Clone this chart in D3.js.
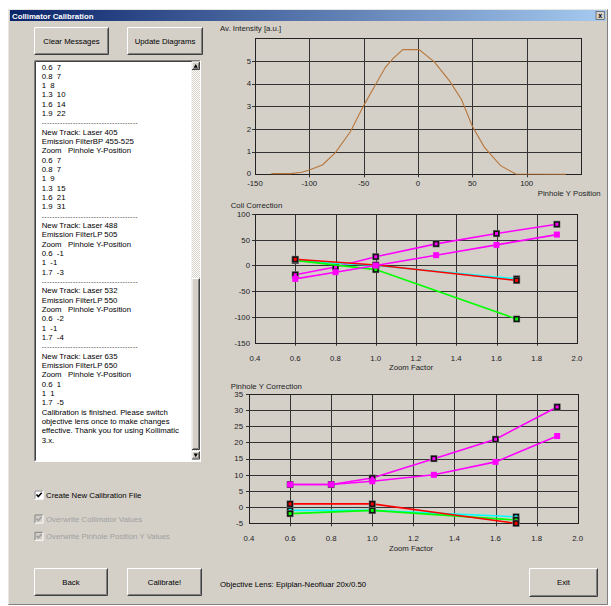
<!DOCTYPE html>
<html><head><meta charset="utf-8">
<script src="https://cdn.jsdelivr.net/npm/d3@7/dist/d3.min.js"></script>
<style>
html,body{margin:0;padding:0;background:#fff;}
svg{display:block;font-family:"Liberation Sans",Arial,sans-serif;}
</style></head>
<body>
<svg id="c" width="611" height="606"></svg>
<script>
// ---------- data ----------
const intensityX = [-135,-117,-107,-100,-88,-76,-62,-50,-39,-30,-23,-14,1,15,29,40,50,61,76,90,136];
const intensityY = [0.03,0.03,0.09,0.19,0.41,0.96,1.9,3.03,3.96,4.72,5.1,5.5,5.5,4.96,4.12,3.3,2.12,1.2,0.38,0.01,0.0];
const intensityXTicks = [-150,-100,-50,0,50,100];
const intensityYTicks = [0,1,2,3,4,5];

const zoomFull = [0.6,0.8,1.0,1.3,1.6,1.9];
const zoomShort = [0.6,1.0,1.7];
const zoomTicks = [0.4,0.6,0.8,1.0,1.2,1.4,1.6,1.8,2.0];

const colliTrack1 = [-26,-13,0,20,40,60];
const colli405 = [-18,-3,17,42,62,80];
const colli488 = [10,0,-26];
const colli532 = [10,-8,-104];
const colli635 = [12,1,-29];
const colliTicks = [-150,-100,-50,0,50,100];

const pinTrack1 = [7,7,8,10,14,22];
const pin405 = [7,7,9,15,21,31];
const pin488 = [-1,-1,-3];
const pin532 = [-2,-1,-4];
const pin635 = [1,1,-5];
const pinTicks = [-5,0,5,10,15,20,25,30,35];

const messages = [
 "0.6  7","0.8  7","1  8","1.3  10","1.6  14","1.9  22","-",
 "New Track: Laser 405","Emission FilterBP 455-525","Zoom   Pinhole Y-Position",
 "0.6  7","0.8  7","1  9","1.3  15","1.6  21","1.9  31","-",
 "New Track: Laser 488","Emission FilterLP 505","Zoom   Pinhole Y-Position",
 "0.6  -1","1  -1","1.7  -3","-",
 "New Track: Laser 532","Emission FilterLP 550","Zoom   Pinhole Y-Position",
 "0.6  -2","1  -1","1.7  -4","-",
 "New Track: Laser 635","Emission FilterLP 650","Zoom   Pinhole Y-Position",
 "0.6  1","1  1","1.7  -5",
 "Calibration is finished. Please switch",
 "objective lens once to make changes",
 "effective. Thank you for using Kollimatic",
 "3.x."
];

const BG = "#d4d0c8";
const FS = 7.8;
const svg = d3.select("#c");

// ---------- window ----------
svg.append("rect").attr("x",0).attr("y",0).attr("width",611).attr("height",606).attr("fill","#fff");
svg.append("rect").attr("x",8).attr("y",9).attr("width",600).attr("height",596).attr("fill",BG);
svg.append("path").attr("d","M8.5,604.5V9.5H607.5").attr("stroke","#e8e6e2").attr("fill","none");
svg.append("path").attr("d","M8.5,604.5H607.5V9.5").attr("stroke","#808080").attr("fill","none");
const defs = svg.append("defs");
const grad = defs.append("linearGradient").attr("id","tb");
grad.append("stop").attr("offset","0").attr("stop-color","#0a246a");
grad.append("stop").attr("offset","1").attr("stop-color","#a6caf0");
svg.append("rect").attr("x",10).attr("y",10).attr("width",596).attr("height",11).attr("fill","url(#tb)");
svg.append("text").attr("x",12).attr("y",18.5).attr("fill","#fff").attr("font-weight","bold")
  .attr("font-size",7.8).text("Collimator Calibration");
// close button
svg.append("rect").attr("x",596).attr("y",11.5).attr("width",8.5).attr("height",8).attr("fill",BG)
  .attr("stroke","#404040").attr("stroke-width",0.6);
svg.append("text").attr("x",600.3).attr("y",18.3).attr("text-anchor","middle").attr("font-size",7)
  .attr("font-weight","bold").text("x");

const pat = defs.append("pattern").attr("id","dith").attr("width",2).attr("height",2).attr("patternUnits","userSpaceOnUse");
pat.append("rect").attr("width",2).attr("height",2).attr("fill","#fff");
pat.append("rect").attr("width",1).attr("height",1).attr("fill",BG);
pat.append("rect").attr("x",1).attr("y",1).attr("width",1).attr("height",1).attr("fill",BG);

function button(x,y,w,h,label,g){
  g = g || svg;
  g.append("rect").attr("x",x).attr("y",y).attr("width",w).attr("height",h).attr("fill",BG);
  g.append("path").attr("d",`M${x+0.5},${y+h-0.5}V${y+0.5}H${x+w-0.5}`).attr("stroke","#fff").attr("fill","none");
  g.append("path").attr("d",`M${x+0.5},${y+h-0.5}H${x+w-0.5}V${y+0.5}`).attr("stroke","#404040").attr("fill","none");
  g.append("path").attr("d",`M${x+1.5},${y+h-1.5}H${x+w-1.5}V${y+1.5}`).attr("stroke","#808080").attr("fill","none");
  if(label) g.append("text").attr("x",x+w/2).attr("y",y+h/2+2.8).attr("text-anchor","middle")
    .attr("font-size",FS).attr("fill","#000").text(label);
}
button(34,27,75,28,"Clear Messages");
button(127,27,76,28,"Update Diagrams");
button(34,568,74,28,"Back");
button(127,568,75,28,"Calibrate!");
button(529,568,69,29,"Exit");

// ---------- message box ----------
const bx=34, by=60, bw=167, bh=402;
svg.append("rect").attr("x",bx).attr("y",by).attr("width",bw).attr("height",bh).attr("fill","#fff");
svg.append("path").attr("d",`M${bx+0.5},${by+bh-0.5}V${by+0.5}H${bx+bw-0.5}`).attr("stroke","#808080").attr("fill","none");
svg.append("path").attr("d",`M${bx+1.5},${by+bh-1.5}V${by+1.5}H${bx+bw-1.5}`).attr("stroke","#404040").attr("fill","none");
svg.append("path").attr("d",`M${bx+0.5},${by+bh-0.5}H${bx+bw-0.5}V${by+0.5}`).attr("stroke","#fff").attr("fill","none");
// scrollbar
const sx=191.5, sw=8.5;
svg.append("rect").attr("x",sx).attr("y",70).attr("width",sw).attr("height",381).attr("fill","url(#dith)");
const sb = svg.append("g");
button(sx,61.5,sw,8.5,null,sb);
sb.append("path").attr("d",`M${sx+2.2},${67.8}L${sx+sw/2},${64}L${sx+sw-2.2},${67.8}Z`).attr("fill","#000");
button(sx,278,sw,172,null,sb);
button(sx,451,sw,8.5,null,sb);
sb.append("path").attr("d",`M${sx+2.2},${453.5}L${sx+sw/2},${457.3}L${sx+sw-2.2},${453.5}Z`).attr("fill","#000");

svg.append("g").selectAll("text").data(messages).join("text")
  .attr("x",41.7).attr("y",(d,i)=>69.5+i*9.33)
  .attr("font-size",FS).attr("fill","#000").attr("xml:space","preserve").style("white-space","pre")
  .each(function(d){
    const t=d3.select(this);
    if(d==="-"){ t.text("-".repeat(37)).attr("textLength",96).attr("font-size",6.5).attr("fill","#444"); }
    else t.text(d);
  });

// ---------- checkboxes ----------
function checkbox(x,y,label,enabled){
  const col = enabled ? "#000" : "#a0a0a0";
  svg.append("rect").attr("x",x).attr("y",y).attr("width",9).attr("height",9).attr("fill",enabled?"#fff":BG);
  svg.append("path").attr("d",`M${x+0.5},${y+8.5}V${y+0.5}H${x+8.5}`).attr("stroke","#808080").attr("fill","none");
  svg.append("path").attr("d",`M${x+0.5},${y+8.5}H${x+8.5}V${y+0.5}`).attr("stroke","#fff").attr("fill","none");
  svg.append("path").attr("d",`M${x+2},${y+4}L${x+3.8},${y+6}L${x+7.2},${y+2.3}`).attr("stroke",col)
    .attr("stroke-width",1.6).attr("fill","none");
  svg.append("text").attr("x",x+11.5).attr("y",y+7.5).attr("font-size",FS).attr("fill",enabled?"#000":"#a0a0a0").text(label);
}
checkbox(34.5,490.5,"Create New Calibration File",true);
checkbox(34.5,514.5,"Overwrite Collimator Values",false);
checkbox(34.5,531.8,"Overwrite Pinhole Position Y Values",false);

svg.append("text").attr("x",220).attr("y",587).attr("font-size",FS).attr("fill","#000")
  .text("Objective Lens: Epiplan-Neofluar 20x/0.50");

// ---------- charts ----------
function chart(o){
  const g = svg.append("g");
  const x = d3.scaleLinear().domain(o.xd).range(o.xr);
  const y = d3.scaleLinear().domain(o.yd).range(o.yr);
  const gridX = o.xGrid, gridY = o.yGrid;
  g.selectAll(".gx").data(gridX).join("line")
    .attr("x1",d=>Math.round(x(d))+0.5).attr("x2",d=>Math.round(x(d))+0.5)
    .attr("y1",o.yr[1]).attr("y2",o.yr[0]+3).attr("stroke","#333").attr("stroke-width",1);
  g.selectAll(".gy").data(gridY).join("line")
    .attr("y1",d=>Math.round(y(d))+0.5).attr("y2",d=>Math.round(y(d))+0.5)
    .attr("x1",o.xr[0]-3).attr("x2",o.xr[1]).attr("stroke","#333").attr("stroke-width",1);
  g.append("rect").attr("x",Math.round(o.xr[0])+0.5).attr("y",Math.round(o.yr[1])+0.5)
    .attr("width",Math.round(o.xr[1])-Math.round(o.xr[0])).attr("height",Math.round(o.yr[0])-Math.round(o.yr[1]))
    .attr("fill","none").attr("stroke","#222").attr("stroke-width",1);
  g.selectAll(".lx").data(o.xLabels).join("text")
    .attr("x",d=>x(d)).attr("y",o.xLabelY).attr("text-anchor","middle").attr("font-size",FS).attr("fill","#222")
    .text(o.xFmt);
  g.selectAll(".ly").data(o.yLabels).join("text")
    .attr("x",o.yLabelX).attr("y",(d,i)=>y(d)+(i===0 && o.lowFirst ? 1.2 : 2.8)).attr("text-anchor","end")
    .attr("font-size",FS).attr("fill","#222")
    .text(d=>String(d));
  g.append("text").attr("x",o.title[1]).attr("y",o.title[2]).attr("font-size",FS).attr("fill","#222").text(o.title[0]);
  if(o.xTitle) g.append("text").attr("x",o.xTitle[1]).attr("y",o.xTitle[2]).attr("text-anchor",o.xTitle[3])
    .attr("font-size",FS).attr("fill","#222").text(o.xTitle[0]);
  return {g,x,y};
}

// intensity chart
const c1 = chart({xd:[-150,150], xr:[255,581], yd:[0,6], yr:[174.3,38.3],
  xGrid:[-100,-50,0,50,100], yGrid:[1,2,3,4,5],
  xLabels:intensityXTicks, xLabelY:185.5, xFmt:d=>String(d),
  yLabels:intensityYTicks, yLabelX:251, lowFirst:true,
  title:["Av. Intensity [a.u.]",220,31], xTitle:["Pinhole Y Position",537.7,195.5,"start"]});
c1.g.append("path").datum(d3.zip(intensityX,intensityY))
  .attr("d",d3.line().x(d=>c1.x(d[0])).y(d=>c1.y(d[1])))
  .attr("fill","none").attr("stroke","#b8763a").attr("stroke-width",1.1);

function series(c,xs,ys,color,bordered){
  const pts = d3.zip(xs,ys);
  c.g.append("path").datum(pts).attr("d",d3.line().x(d=>c.x(d[0])).y(d=>c.y(d[1])))
    .attr("fill","none").attr("stroke",color).attr("stroke-width",1.6);
  const m = c.g.append("g").selectAll("g").data(pts).join("g")
    .attr("transform",d=>`translate(${c.x(d[0])},${c.y(d[1])})`);
  if(bordered){
    m.append("rect").attr("x",-3.5).attr("y",-3.5).attr("width",7).attr("height",7).attr("fill","#777");
    m.append("rect").attr("x",-3).attr("y",-3).attr("width",6).attr("height",6).attr("fill","#111");
    m.append("rect").attr("x",-1.5).attr("y",-1.5).attr("width",3).attr("height",3).attr("fill",color);
  } else {
    m.append("rect").attr("x",-3).attr("y",-3).attr("width",6).attr("height",6).attr("fill",color);
  }
}
const zfmt = d=>d.toFixed(1);
// colli chart
const c2 = chart({xd:[0.4,2.0], xr:[255,577], yd:[-150,100], yr:[342.7,214],
  xGrid:zoomTicks.slice(1,-1), yGrid:colliTicks.slice(1),
  xLabels:zoomTicks, xLabelY:361, xFmt:zfmt,
  yLabels:colliTicks, yLabelX:250,
  title:["Coli Correction",230.7,208], xTitle:["Zoom Factor",411,370,"middle"]});
series(c2,zoomFull,colli405,"#ff00ff",true);
series(c2,zoomShort,colli488,"#00ffff",true);
series(c2,zoomShort,colli532,"#00ff00",true);
series(c2,zoomShort,colli635,"#ff0000",true);
series(c2,zoomFull,colliTrack1,"#ff00ff",false);

// pinhole chart
const c3 = chart({xd:[0.4,2.0], xr:[249,577.7], yd:[-5,35], yr:[523.3,394],
  xGrid:zoomTicks.slice(1,-1), yGrid:pinTicks.slice(1),
  xLabels:zoomTicks, xLabelY:541, xFmt:zfmt,
  yLabels:pinTicks, yLabelX:243,
  title:["Pinhole Y Correction",230.7,388.5], xTitle:["Zoom Factor",411,550.5,"middle"]});
series(c3,zoomFull,pin405,"#ff00ff",true);
series(c3,zoomShort,pin488,"#00ffff",true);
series(c3,zoomShort,pin532,"#00ff00",true);
series(c3,zoomShort,pin635,"#ff0000",true);
series(c3,zoomFull,pinTrack1,"#ff00ff",false);
</script>
</body></html>
